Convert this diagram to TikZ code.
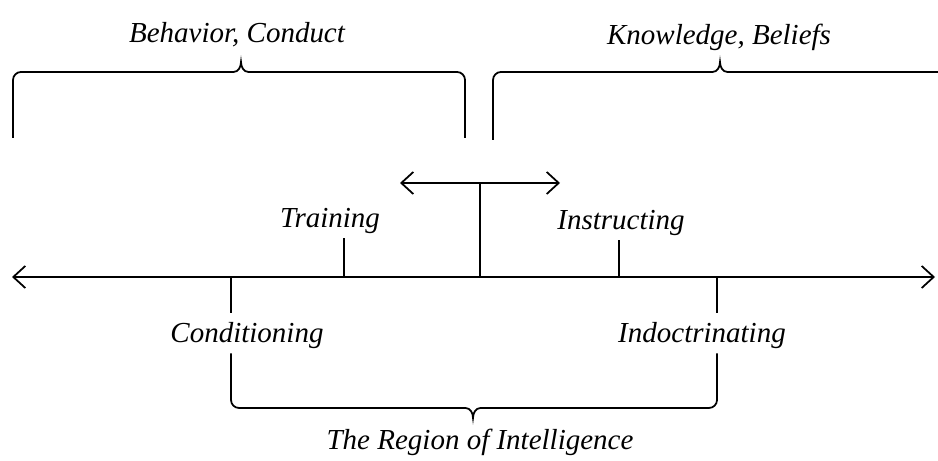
\documentclass[tikz,border=0pt]{standalone}
\usepackage{fontspec}
\setmainfont{Liberation Serif}
\usetikzlibrary{arrows.meta}
\usetikzlibrary{positioning}

\begin{document}
\begin{tikzpicture}[
    lbl/.style={font=\itshape\fontsize{16.5}{20}\selectfont, anchor=base, text height=0.5cm, text depth=0.1cm, inner xsep=0pt, inner ysep=0.1cm},
    ln/.style={line width=1pt},
    barb/.style={ln, {Straight Barb[length=2.4mm,width=4.4mm]}-{Straight Barb[length=2.4mm,width=4.4mm]}}
  ]
    \useasboundingbox (0,0) rectangle (18.76,9.22);

    % main axis
    \coordinate (axL) at (0.24,3.68);
    \coordinate (axR) at (18.70,3.68);
    \coordinate (mid) at (9.60,3.68);
    \coordinate (tr) at (6.88,3.68);
    \coordinate (in) at (12.38,3.68);
    \coordinate (co) at (4.62,3.68);
    \coordinate (id) at (14.34,3.68);
    \draw[barb] (axL) -- (axR);

    % hub with the double arrow
    \coordinate (hub) at (9.60,5.56);
    \coordinate (hubL) at (8.00,5.56);
    \coordinate (hubR) at (11.20,5.56);
    \draw[ln] (mid) -- (hub);
    \draw[barb] (hubL) -- (hubR);

    % labels
    \node[lbl] (training) at (6.60,4.66) {Training};
    \node[lbl] (instructing) at (12.42,4.62) {Instructing};
    \node[lbl] (conditioning) at (4.94,2.36) {Conditioning};
    \node[lbl] (indoctrinating) at (14.04,2.36) {Indoctrinating};
    \node[lbl] (behavior) at (4.74,8.36) {Behavior, Conduct};
    \node[lbl] (knowledge) at (14.38,8.32) {Knowledge, Beliefs};
    \node[lbl] (region) at (9.60,0.22) {The Region of Intelligence};

    % ticks
    \draw[ln] (tr) -- (tr |- training.south);
    \draw[ln] (in) -- (in |- instructing.south);
    \draw[ln] (co) -- (co |- conditioning.north);
    \draw[ln] (id) -- (id |- indoctrinating.north);

    % lower bracket
    \draw[ln] (co |- conditioning.south) -- (4.62,1.22) arc[start angle=180, end angle=270, radius=0.16]
      -- (9.31,1.06) to[out=0, in=90] (9.46,0.86) to[out=90, in=180] (9.61,1.06)
      -- (14.18,1.06) arc[start angle=270, end angle=360, radius=0.16] -- (id |- indoctrinating.south);

    % upper brackets
    \draw[ln] (0.26,6.46) -- (0.26,7.62) arc[start angle=180, end angle=90, radius=0.16]
      -- (4.67,7.78) to[out=0, in=-90] (4.82,7.98) to[out=-90, in=180] (4.97,7.78)
      -- (9.14,7.78) arc[start angle=90, end angle=0, radius=0.16] -- (9.30,6.46);
    \draw[ln] (9.86,6.42) -- (9.86,7.62) arc[start angle=180, end angle=90, radius=0.16]
      -- (14.25,7.78) to[out=0, in=-90] (14.40,7.98) to[out=-90, in=180] (14.55,7.78)
      -- (18.76,7.78);

\end{tikzpicture}
\end{document}
